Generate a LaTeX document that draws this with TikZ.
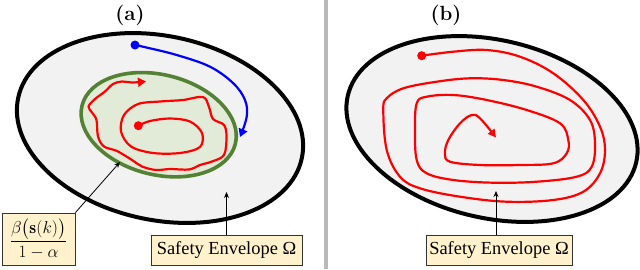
\documentclass[tikz,border=0pt]{standalone}
\usepackage{amsmath}
\usepackage{fontspec}
\newfontfamily\boxserif{Liberation Serif}
\usetikzlibrary{arrows.meta,calc}
\definecolor{envfill}{RGB}{242,242,242}
\definecolor{greenedge}{RGB}{84,130,53}
\definecolor{greenfill}{RGB}{226,235,216}
\definecolor{boxfill}{RGB}{255,242,204}
\definecolor{divgray}{RGB}{185,185,185}
\definecolor{redline}{RGB}{255,0,0}
\definecolor{blueline}{RGB}{0,0,255}
\tikzset{
  envelope/.style={draw=black, line width=4pt, fill=envfill},
  safeset/.style={draw=greenedge, line width=3.6pt, fill=greenfill},
  traj/.style={line width=2.2pt, line cap=round, line join=round},
  dotmark/.style={circle, inner sep=0pt, minimum size=9pt},
  labelbox/.style={draw=black!80, line width=0.8pt, fill=boxfill, inner sep=0pt},
  pointer/.style={line width=0.8pt, -{Stealth[length=6pt,width=5pt]}},
  panel/.style={inner sep=0pt, font=\fontsize{20.5}{24}\selectfont\bfseries},
  envtext/.style={font=\fontsize{18.4}{22}\selectfont\boxserif},
  fractext/.style={font=\fontsize{17.5}{21}\selectfont}
}
\begin{document}
\begin{tikzpicture}[x=1pt,y=-1pt]
\useasboundingbox (0,0) rectangle (640,269);
% divider
\coordinate (dtop) at (326,0);
\coordinate (dbot) at (326,269);
\draw[divgray, line width=4.5pt] (dtop) -- (dbot);
% panel labels
\node[panel] (la) at (130,15) {(a)};
\node[panel] (lb) at (446,15) {(b)};
% ---------------- panel (a)
\draw[envelope, rotate around={-12:(160,128)}] (160,128) ellipse [x radius=145pt, y radius=92pt];
\draw[safeset, rotate around={-14:(158.7,124.7)}] (158.7,124.7) ellipse [x radius=79pt, y radius=50pt];
% red wavy spiral
\draw[traj, redline, -{Triangle[length=8pt,width=9pt]}] plot[smooth, tension=0.55] coordinates {
 (138.3,125.7) (150,121) (170,118.5) (190,121.5) (202,133) (200,147) (180,153) (153,153)
 (131,146.5) (121,131.5) (124,115) (138,104) (160,101.5) (183,100) (203,97) (209,107)
 (213,119) (224,125) (226.5,137) (224,155) (212,161.5) (200,165) (189,169.5) (170,169)
 (156,170) (142,166.5) (132,160) (117,151) (104,146.5) (98,136.5) (96.5,120) (92,112.5)
 (88.5,106.5) (95,99) (105,91.5) (113,84) (122,81.5) (132,82.5) (146,81.5)};
\node[dotmark, fill=redline] (ra) at (138.3,125.7) {};
% blue trajectory
\draw[traj, blueline, -{Triangle[length=8pt,width=9pt]}] plot[smooth, tension=0.6] coordinates {
 (135,45) (143,46.7) (176.7,55) (210,66.7) (233.3,83.3) (245,100) (246.7,116.7) (240,137)};
\node[dotmark, fill=blueline] (ba) at (135,45) {};
% labels
\node[labelbox, fractext, minimum width=73pt, minimum height=52pt] (frac) at (38.5,239)
  {$\dfrac{\beta\big(\mathbf{s}(k)\big)}{1-\alpha}$};
\coordinate (fractip) at (120,162);
\draw[pointer] (frac.north east) -- (fractip);
\node[labelbox, envtext, minimum width=151pt, minimum height=30pt] (sea) at (226.5,250)
  {Safety Envelope Ω};
\coordinate (seatip) at (226.5,192);
\draw[pointer] (sea.north) -- (seatip);
% ---------------- panel (b)
\draw[envelope, rotate around={-13:(492,129)}] (492,129) ellipse [x radius=148pt, y radius=89pt];
\draw[traj, redline, -{Triangle[length=8pt,width=8pt]}] plot[smooth, tension=0.6] coordinates {
 (421.7,55.7) (453.3,51.7) (486.7,50) (520,56.7) (553.3,73.3) (583.3,100) (600,126.7)
 (605,150) (600,173.3) (583.3,191.7) (553.3,200) (506.7,201.7) (460,196.7) (420,188.3)
 (400,176.7) (386.7,150) (383.3,110) (386.7,98.3) (403.3,88.3) (436.7,81.7) (470,78.3)
 (503.3,80) (536.7,86.7) (570,100) (590,120) (595,143.3) (591.7,166.7) (576.7,176.7)
 (536.7,181.7) (493.3,182.7) (453.3,180) (426.7,173.3) (416.7,160) (415,130) (416.7,103.3)
 (426.7,96.7) (453.3,95) (486.7,100) (526.7,110) (560,123.3) (568.3,140) (566.7,153.3)
 (553.3,163.3) (520,165) (480,165) (450,161.7) (445,153.3) (448.3,140) (460,123.3)
 (471.7,115) (480,118.3) (496,137.5)};
\node[dotmark, fill=redline] (rb) at (421.7,55.7) {};
\node[labelbox, envtext, minimum width=146pt, minimum height=30pt] (seb) at (499,250)
  {Safety Envelope Ω};
\coordinate (sebtip) at (496,191);
\draw[pointer] (seb.north -| sebtip) -- (sebtip);
\end{tikzpicture}
\end{document}
